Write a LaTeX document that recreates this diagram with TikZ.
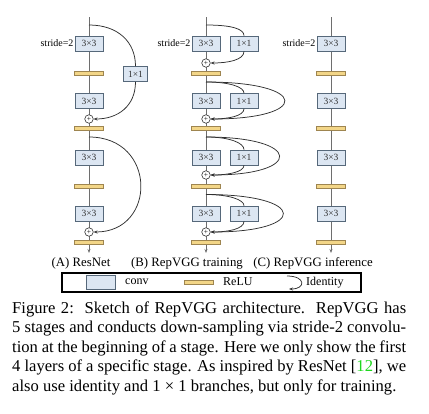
\documentclass[tikz,border=0pt]{standalone}
\usepackage{fontspec}
\setmainfont{Liberation Serif}
\usetikzlibrary{arrows.meta}
\definecolor{convfill}{HTML}{DCE6F2}
\definecolor{convdraw}{HTML}{56687A}
\definecolor{relufill}{HTML}{F3D688}
\definecolor{reludraw}{HTML}{9E8550}
\definecolor{trunkc}{HTML}{6E6E6E}
\definecolor{arcc}{HTML}{303030}
\definecolor{refgreen}{RGB}{30,215,30}
\tikzset{
  conv/.style={draw=convdraw,fill=convfill,line width=0.7pt,minimum width=28pt,minimum height=15pt,inner sep=0pt,font=\fontsize{9.5}{10}\selectfont,text=black!80},
  convs/.style={conv,minimum width=24pt},
  relu/.style={draw=reludraw,fill=relufill,line width=0.6pt,minimum width=29pt,minimum height=4pt,inner sep=0pt},
  plus/.style={circle,draw=arcc,fill=white,line width=0.6pt,minimum size=8.5pt,inner sep=0pt,font=\fontsize{7.5}{7.5}\selectfont},
  trunk/.style={draw=trunkc,line width=0.8pt},
  idarc/.style={draw=arcc,line width=0.75pt,-{Stealth[length=4pt,width=3pt]}},
  idline/.style={draw=arcc,line width=0.75pt},
  stride/.style={font=\fontsize{10}{11}\selectfont,anchor=east,inner sep=1pt},
  sublabel/.style={font=\fontsize{12.8}{14}\selectfont},
  legtext/.style={font=\fontsize{12}{13}\selectfont,anchor=west,inner sep=0pt},
  capline/.style={font=\fontsize{16.6}{19.5}\selectfont,anchor=base west,inner sep=0pt},
}
\begin{document}
\begin{tikzpicture}[x=1pt,y=-1pt]
\useasboundingbox (0,0) rectangle (429,413);
% ---------- trunks ----------
\coordinate (atop) at (89,17);   \coordinate (aend) at (89,253);
\coordinate (btop) at (206,17);  \coordinate (bend) at (206,253);
\coordinate (ctop) at (331,17);  \coordinate (cend) at (331,253);
\draw[trunk,-{Stealth[length=4pt,width=3pt]}] (atop) -- (aend);
\draw[trunk,-{Stealth[length=4pt,width=3pt]}] (btop) -- (bend);
\draw[trunk,-{Stealth[length=4pt,width=3pt]}] (ctop) -- (cend);
% ---------- column A: ResNet ----------
\node[conv] (a1) at (89,43.5) {3×3};
\node[relu] (ar1) at (89,73.5) {};
\node[convs] (a1x) at (135.5,74) {1×1};
\node[conv] (a2) at (89,101) {3×3};
\node[plus] (ap2) at (89,119) {+};
\node[relu] (ar2) at (89,128) {};
\node[conv] (a3) at (89,157.5) {3×3};
\node[relu] (ar3) at (89,186) {};
\node[conv] (a4) at (89,213.5) {3×3};
\node[plus] (ap4) at (89,232) {+};
\node[relu] (ar4) at (89,242) {};
\node[stride] (as) at (a1.west) {stride=2};
\coordinate (aa1) at (89,25);
\coordinate (aa3) at (89,137);
\draw[idline] (aa1) .. controls (118,25) and (135.5,42) .. (a1x.north);
\draw[idarc] (a1x.south) .. controls (135.5,106) and (118,119) .. (ap2.east);
\draw[idarc] (aa3) .. controls (157,137) and (157,232) .. (ap4.east);
% ---------- column B: RepVGG training ----------
\node[conv] (b1) at (206,43.5) {3×3};
\node[conv] (b1x) at (244,43.5) {1×1};
\node[plus] (bp1) at (206,63) {+};
\node[relu] (br1) at (206,73.5) {};
\node[conv] (b2) at (206,101) {3×3};
\node[conv] (b2x) at (244,101) {1×1};
\node[plus] (bp2) at (206,119) {+};
\node[relu] (br2) at (206,128) {};
\node[conv] (b3) at (206,157.5) {3×3};
\node[conv] (b3x) at (244,157.5) {1×1};
\node[plus] (bp3) at (206,175) {+};
\node[relu] (br3) at (206,186) {};
\node[conv] (b4) at (206,213.5) {3×3};
\node[conv] (b4x) at (244,213.5) {1×1};
\node[plus] (bp4) at (206,232) {+};
\node[relu] (br4) at (206,242) {};
\node[stride] (bs) at (b1.west) {stride=2};
\coordinate (bb1) at (206,25);
\coordinate (bb2) at (206,82);
\coordinate (bb3) at (206,137);
\coordinate (bb4) at (206,194.5);
% row 1
\draw[idline] (bb1) .. controls (232,25) and (244,29) .. (b1x.north);
\draw[idarc] (b1x.south) .. controls (244,60) and (228,63) .. (bp1.east);
% row 2
\draw[idline] (bb2) .. controls (230,82) and (244,87) .. (b2x.north);
\draw[idarc] (b2x.south) .. controls (244,116) and (228,119) .. (bp2.east);
\draw[idarc] (bb2) .. controls (310,82) and (310,119) .. (bp2.east);
% row 3
\draw[idline] (bb3) .. controls (230,137) and (244,143) .. (b3x.north);
\draw[idarc] (b3x.south) .. controls (244,172) and (228,175) .. (bp3.east);
\draw[idarc] (bb3) .. controls (303,137) and (303,175) .. (bp3.east);
% row 4
\draw[idline] (bb4) .. controls (230,194.5) and (244,200) .. (b4x.north);
\draw[idarc] (b4x.south) .. controls (244,229) and (228,232) .. (bp4.east);
\draw[idarc] (bb4) .. controls (308,194.5) and (308,232) .. (bp4.east);
% ---------- column C: RepVGG inference ----------
\node[conv] (c1) at (331,43.5) {3×3};
\node[relu] (cr1) at (331,73.5) {};
\node[conv] (c2) at (331,101) {3×3};
\node[relu] (cr2) at (331,128) {};
\node[conv] (c3) at (331,157.5) {3×3};
\node[relu] (cr3) at (331,186) {};
\node[conv] (c4) at (331,213.5) {3×3};
\node[relu] (cr4) at (331,242) {};
\node[stride] (cs) at (c1.west) {stride=2};
% ---------- sub labels ----------
\node[sublabel] (la) at (81,263.5) {(A) ResNet};
\node[sublabel] (lb) at (187,263.5) {(B) RepVGG training};
\node[sublabel] (lc) at (313,263.5) {(C) RepVGG inference};
% ---------- legend ----------
\node[draw=black,line width=1.4pt,minimum width=299pt,minimum height=19pt,inner sep=0pt] (leg) at (211.5,282.5) {};
\node[conv,minimum width=29pt,minimum height=14pt] (lconv) at (100.5,282.5) {};
\node[legtext] (tconv) at (125,281.5) {conv};
\node[relu] (lrelu) at (198.5,282) {};
\node[legtext] (trelu) at (223,282) {ReLU};
\coordinate (lida) at (287,276);
\coordinate (lidb) at (289,289);
\draw[idarc] (lida) .. controls (306,276) and (306,289) .. (lidb);
\node[legtext] (tid) at (306,282.5) {Identity};
% ---------- caption ----------
\node[capline] (cap1) at (12,313) {\makebox[394pt][s]{Figure 2:\ \ Sketch of RepVGG architecture.\ \ RepVGG has}};
\node[capline] (cap2) at (12,332.5) {\makebox[394pt][s]{5 stages and conducts down-sampling via stride-2 convolu-}};
\node[capline] (cap3) at (12,352) {\makebox[394pt][s]{tion at the beginning of a stage. Here we only show the first}};
\node[capline] (cap4) at (12,371.5) {\makebox[394pt][s]{4 layers of a specific stage. As inspired by ResNet [\textcolor{refgreen}{12}], we}};
\node[capline] (cap5) at (12,391) {also use identity and 1 × 1 branches, but only for training.};
\end{tikzpicture}
\end{document}
